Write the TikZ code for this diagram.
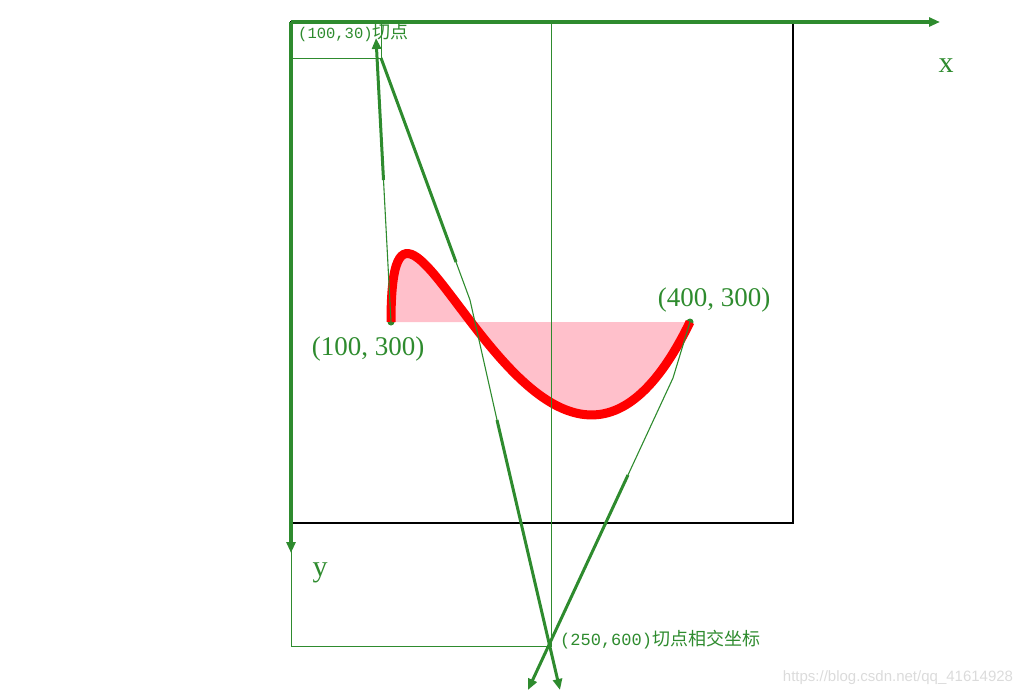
\documentclass[tikz,border=0pt]{standalone}
\usepackage{fontspec}
\setmainfont{Liberation Serif}
\newfontfamily\cjkfont{Noto Sans CJK SC}
\newfontfamily\numfont{Liberation Mono}
\newfontfamily\markfont{Liberation Sans}
\usetikzlibrary{arrows.meta}
\definecolor{axisgreen}{RGB}{46,139,46}
\definecolor{curvepink}{RGB}{255,192,203}
\begin{document}
\begin{tikzpicture}[x=1pt, y=-1pt,
        axis/.style={draw=axisgreen, line width=3.5pt},
        headed/.style={-{Triangle[length=11pt,width=9pt]}},
        guide/.style={draw=axisgreen, line width=1pt},
        tangent/.style={draw=axisgreen, line width=3pt},
        thintangent/.style={draw=axisgreen, line width=1.1pt},
        dot/.style={circle, fill=axisgreen, inner sep=0pt, minimum size=7pt},
        coordlabel/.style={text=axisgreen, inner sep=0pt, font=\fontsize{27}{30}\selectfont},
        axislabel/.style={text=axisgreen, inner sep=0pt, font=\fontsize{30}{32}\selectfont},
        ptlabel/.style={text=axisgreen, inner sep=0pt, anchor=west, font=\fontsize{18}{20}\selectfont}
    ]
    \useasboundingbox (0,0) rectangle (1029,696);
    % canvas frame
    \draw[line width=2.5pt] (291,22) rectangle (793,523);
    % bezier curve and its control points
    \coordinate (start) at (391,322);
    \coordinate (cpa) at (391,68);
    \coordinate (cpb) at (543,625);
    \coordinate (end) at (690,322);
    \fill[curvepink] (start) .. controls (cpa) and (cpb) .. (end) -- cycle;
    \node[dot] (startdot) at (start) {};
    \node[dot] (enddot) at (end) {};
    \draw[red, line width=9pt] (start) .. controls (cpa) and (cpb) .. (end);
    % guide lines
    \draw[guide] (291,20) rectangle (551,646);
    \draw[guide] (291,22) rectangle (381,58);
    % axes
    \coordinate (origin) at (291,22);
    \coordinate (xend) at (940,22);
    \coordinate (yend) at (291,553);
    \draw[axis, headed] (origin) -- (xend);
    \draw[axis, headed] (origin) -- (yend);
    % tangent from the start point
    \coordinate (lefttip) at (376,38);
    \coordinate (leftmid) at (383.5,180);
    \draw[thintangent] (start) -- (leftmid);
    \draw[tangent, headed] (leftmid) -- (lefttip);
    % line between the two tangent points
    \coordinate (tpoint) at (381,58);
    \coordinate (ma) at (456,262);
    \coordinate (mb) at (470,300);
    \coordinate (mc) at (497,420);
    \coordinate (midtip) at (560,690);
    \draw[tangent] (tpoint) -- (ma);
    \draw[thintangent] (ma) -- (mb) -- (mc);
    \draw[tangent, headed] (mc) -- (midtip);
    % tangent from the end point
    \coordinate (ra) at (673,378);
    \coordinate (rb) at (628,475);
    \coordinate (righttip) at (528,690);
    \draw[thintangent] (end) -- (ra) -- (rb);
    \draw[tangent, headed] (rb) -- (righttip);
    % labels
    \node[coordlabel] (startlabel) at (368,349) {(100, 300)};
    \node[coordlabel] (endlabel) at (714,300) {(400, 300)};
    \node[axislabel] (xlabel) at (946,66) {x};
    \node[axislabel] (ylabel) at (320,573) {y};
    \node[ptlabel] (cpalabel) at (298,33) {{\numfont\fontsize{15.5}{17}\selectfont(100,30)}{\cjkfont 切点}};
    \node[ptlabel] (cpblabel) at (560,640) {{\numfont\fontsize{17}{19}\selectfont(250,600)}{\cjkfont 切点相交坐标}};
    \node[text=black!14, inner sep=0pt, font=\markfont\fontsize{15}{17}\selectfont] (mark) at (898,678) {https://blog.csdn.net/qq\_41614928};
\end{tikzpicture}
\end{document}
